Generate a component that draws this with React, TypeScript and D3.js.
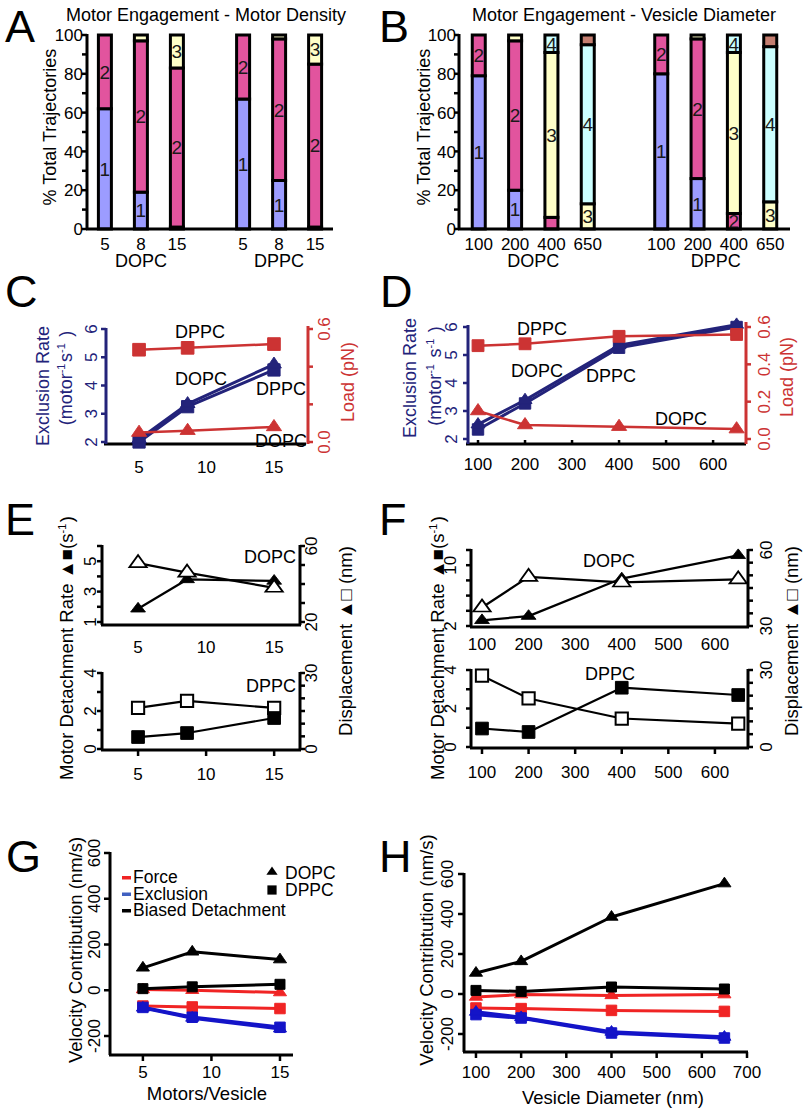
import React from "react";
import * as d3 from "d3";

const FONT = "'Liberation Sans', Arial, Helvetica, sans-serif";
const NAVY = "#23237a";
const RED = "#cc3333";
const BRIGHT_RED = "#f02424";
const BLUE = "#1414c8";
const LEGEND_BLUE = "#4060c0";
const SEG_COLORS = ["#9c9cff", "#e2549e", "#ffffc8", "#ccffff", "#c47e70"];

// A / B : % of trajectories with 1..5 motors engaged (DOPC cats, then DPPC cats)
const lipids = ["DOPC", "DPPC"];
const densityCats = ["5", "8", "15"];
const densEngaged1 = [62, 19, 1, 67, 25, 1];
const densEngaged2 = [38, 78, 82, 33, 73, 84];
const densEngaged3 = [0, 3, 17, 0, 2, 15];

const diameterCats = ["100", "200", "400", "650"];
const diamEngaged1 = [79, 20, 0, 0, 80, 26, 0, 0];
const diamEngaged2 = [21, 77, 6, 0, 20, 72, 8, 0];
const diamEngaged3 = [0, 3, 85, 13, 0, 2, 83, 14];
const diamEngaged4 = [0, 0, 9, 82, 0, 0, 9, 80];
const diamEngaged5 = [0, 0, 0, 5, 0, 0, 0, 6];

// x values
const motorsPerVesicle = [5, 8.6, 15];
const vesicleDiameter = [100, 200, 400, 650];

// C : exclusion rate (motor^-1 s^-1) and load (pN) vs motors
const exclRateDOPC_C = [2.1, 3.35, 4.75];
const exclRateDPPC_C = [2.0, 3.25, 4.55];
const loadDPPC_C = [0.49, 0.5, 0.52];
const loadDOPC_C = [0.05, 0.06, 0.08];

// D : same vs vesicle diameter
const exclRateDOPC_D = [2.52, 3.39, 5.35, 6.08];
const exclRateDPPC_D = [2.34, 3.27, 5.26, 6.0];
const loadDPPC_D = [0.5, 0.51, 0.55, 0.56];
const loadDOPC_D = [0.15, 0.075, 0.066, 0.053];

// E : detachment rate (s^-1) and displacement (nm) vs motors
const detachDOPC_E = [1.87, 3.8, 3.7];
const dispDOPC_E = [51, 46, 38];
const detachDPPC_E = [0.63, 0.84, 1.63];
const dispDPPC_E = [16.2, 19.0, 16.2];

// F : same vs vesicle diameter
const detachDOPC_F = [2.75, 3.3, 8.24, 11.3];
const dispDOPC_F = [37.3, 49.4, 47.2, 48.4];
const detachDPPC_F = [0.96, 0.78, 3.08, 2.7];
const dispDPPC_F = [27.8, 18.9, 11.1, 9.1];

// G : velocity contribution (nm/s) vs motors
const forceDOPC_G = [3, 0, -10];
const forceDPPC_G = [-69, -73, -80];
const exclDOPC_G = [-77, -121, -168];
const exclDPPC_G = [-75, -118, -162];
const biasDOPC_G = [98, 168, 134];
const biasDPPC_G = [7, 15, 26];

// H : velocity contribution vs vesicle diameter
const forceDOPC_H = [-15, -3, -7, -3];
const forceDPPC_H = [-70, -73, -82, -87];
const exclDOPC_H = [-90, -117, -190, -215];
const exclDPPC_H = [-103, -120, -195, -220];
const biasDOPC_H = [105, 163, 385, 552];
const biasDPPC_H = [18, 13, 35, 25];

function Letter({ x, y, t }: { x: number; y: number; t: string }) {
  return <text x={x} y={y} fontSize={45}>{t}</text>;
}

function RotLabel({ x, y, fs = 18, color = "#000", children }: any) {
  return (
    <text transform={`translate(${x},${y}) rotate(-90)`} textAnchor="middle" dy="0.36em" fontSize={fs} fill={color}>
      {children}
    </text>
  );
}

function Sup({ t }: { t: string }) {
  return (
    <>
      <tspan fontSize={11} dy={-7}>{t}</tspan>
      <tspan dy={7}>{"\u200a"}</tspan>
    </>
  );
}

function YAxis(props: any) {
  const { x, scale, top, bottom, ticks, labels, side = -1, color = "#000", labelX, rotated = true,
    fmt = (v: number) => String(v), fs = 17, tickLen = 5 } = props;
  return (
    <g>
      <line x1={x} x2={x} y1={top} y2={bottom} stroke={color} strokeWidth={3} />
      {ticks.map((t: number) => (
        <line key={"t" + t} x1={x} x2={x + side * tickLen} y1={scale(t)} y2={scale(t)} stroke={color} strokeWidth={2.5} />
      ))}
      {labels.map((t: number) =>
        rotated ? (
          <text key={"l" + t} transform={`translate(${labelX},${scale(t)}) rotate(-90)`} textAnchor="middle" dy="0.36em" fontSize={fs} fill={color}>
            {fmt(t)}
          </text>
        ) : (
          <text key={"l" + t} x={labelX} y={scale(t)} dy="0.36em" textAnchor="end" fontSize={fs} fill={color}>
            {fmt(t)}
          </text>
        )
      )}
    </g>
  );
}

function XAxis(props: any) {
  const { y, scale, left, right, ticks = [], tickLen = 5, labels, labelY, fs = 17 } = props;
  return (
    <g>
      <line x1={left} x2={right} y1={y} y2={y} stroke="#000" strokeWidth={3} />
      {ticks.map((t: number) => (
        <line key={"t" + t} x1={scale(t)} x2={scale(t)} y1={y} y2={y + tickLen} stroke="#000" strokeWidth={2.5} />
      ))}
      {labels.map((t: number) => (
        <text key={"l" + t} x={scale(t)} y={labelY} textAnchor="middle" fontSize={fs}>{t}</text>
      ))}
    </g>
  );
}

function Series(props: any) {
  const { xs, ys, x, y, color, shape, size, sw = 2.5, open = false, squash = 0.85, markerColor } = props;
  const pts = xs.map((v: number, i: number) => [x(v), y(ys[i])] as [number, number]);
  const path = d3.line()(pts) || "";
  const sym = d3.symbol().type(shape === "tri" ? d3.symbolTriangle : d3.symbolSquare).size(size)() || "";
  const mc = markerColor || color;
  return (
    <g>
      <path d={path} fill="none" stroke={color} strokeWidth={sw} strokeLinejoin="round" />
      {pts.map(([px, py]: [number, number], i: number) => (
        <path key={i} d={sym}
          transform={`translate(${px},${py}) scale(1,${shape === "tri" ? squash : 1})`}
          fill={open ? "#fff" : mc} stroke={mc} strokeWidth={open ? 2 : 1} />
      ))}
    </g>
  );
}

function EngagementPanel(props: any) {
  const { letter, letterX, title, titleX, cats, layers, left, right, pad, half, tickLabelX, yLabelX } = props;
  const y = d3.scaleLinear([0, 100], [229, 35]);
  const gx = d3.scalePoint<string>().domain(lipids).range([left, right]).padding(pad);
  const ix = d3.scalePoint<string>().domain(cats).range([-half, half]);
  const rows = lipids.flatMap((lipid, gi) =>
    cats.map((cat: string, ci: number) => {
      const r: Record<string, any> = { lipid, cat };
      layers.forEach((L: number[], k: number) => { r["n" + k] = L[gi * cats.length + ci]; });
      return r;
    })
  );
  const stacked = d3.stack<any>().keys(layers.map((_: any, k: number) => "n" + k))(rows);
  const bw = 13;
  return (
    <g>
      <Letter x={letterX} y={42} t={letter} />
      <text x={titleX} y={21} textAnchor="middle" fontSize={18}>{title}</text>
      <RotLabel x={yLabelX} y={127}>% Total Trajectories</RotLabel>
      <YAxis x={left} scale={y} top={34} bottom={229} ticks={d3.range(0, 101, 10)} labels={d3.range(0, 101, 20)}
        rotated={false} labelX={tickLabelX} />
      {stacked.map((series, k) =>
        series.map((d, i) => {
          const r = rows[i];
          if (d[1] - d[0] <= 0) return null;
          const cx = (gx(r.lipid) as number) + (ix(r.cat) as number);
          return (
            <rect key={k + "-" + i} x={cx - bw / 2} y={y(d[1])} width={bw} height={y(d[0]) - y(d[1])}
              fill={SEG_COLORS[k]} stroke="#000" strokeWidth={3} />
          );
        })
      )}
      {stacked.map((series, k) =>
        series.map((d, i) => {
          const r = rows[i];
          if (d[1] - d[0] < 7) return null;
          const cx = (gx(r.lipid) as number) + (ix(r.cat) as number);
          return (
            <text key={"t" + k + "-" + i} x={cx} y={y((d[0] + d[1]) / 2)} dy="0.36em" textAnchor="middle" fontSize={19} fill="#1a1a1a">
              {k + 1}
            </text>
          );
        })
      )}
      <line x1={left - 1} x2={right} y1={229} y2={229} stroke="#000" strokeWidth={3} />
      {lipids.map((lip) =>
        cats.map((c: string) => (
          <text key={lip + c} x={(gx(lip) as number) + (ix(c) as number)} y={250} textAnchor="middle" fontSize={17}>{c}</text>
        ))
      )}
      {lipids.map((lip) => (
        <text key={lip} x={gx(lip) as number} y={267} textAnchor="middle" fontSize={18}>{lip}</text>
      ))}
    </g>
  );
}

function PanelC() {
  const x = d3.scaleLinear([2.55, 17.3], [106, 305]);
  const y = d3.scaleLinear([2, 6], [442, 329]);
  const yr = d3.scaleLinear([0, 0.6], [442, 329]);
  const f = d3.format(".1f");
  return (
    <g>
      <Letter x={5} y={307} t="C" />
      <XAxis y={444} scale={x} left={104} right={306} labels={[5, 10, 15]} labelY={473} />
      <YAxis x={106} scale={y} top={328} bottom={444} ticks={[2, 3, 4, 5, 6]} labels={[2, 3, 4, 5, 6]} labelX={91} color={NAVY} />
      <YAxis x={308} scale={yr} top={326} bottom={444} ticks={[0, 0.2, 0.4, 0.6]} labels={[0, 0.6]} side={1} labelX={324} color={RED} fmt={f} />
      <Series xs={motorsPerVesicle} ys={exclRateDPPC_C} x={x} y={y} color={NAVY} shape="sq" size={150} sw={3} />
      <Series xs={motorsPerVesicle} ys={exclRateDOPC_C} x={x} y={y} color={NAVY} shape="tri" size={95} sw={3} />
      <Series xs={motorsPerVesicle} ys={loadDPPC_C} x={x} y={yr} color={RED} shape="sq" size={160} sw={2.5} />
      <Series xs={motorsPerVesicle} ys={loadDOPC_C} x={x} y={yr} color={RED} shape="tri" size={100} sw={2.5} />
      <text x={200} y={338} textAnchor="middle" fontSize={18}>DPPC</text>
      <text x={201} y={385} textAnchor="middle" fontSize={18}>DOPC</text>
      <text x={281} y={395} textAnchor="middle" fontSize={18}>DPPC</text>
      <text x={281} y={447} textAnchor="middle" fontSize={18}>DOPC</text>
      <RotLabel x={43} y={386} color={NAVY}>Exclusion Rate</RotLabel>
      <RotLabel x={66} y={378} color={NAVY}>(motor<Sup t="-1" />s<Sup t="-1" /> )</RotLabel>
      <RotLabel x={348} y={382} color={RED}>Load (pN)</RotLabel>
    </g>
  );
}

function PanelD() {
  const x = d3.scaleLinear([78.7, 670], [468, 746]);
  const y = d3.scaleLinear([2, 6], [439, 327]);
  const yr = d3.scaleLinear([0, 0.6], [439, 327]);
  const f = d3.format(".1f");
  return (
    <g>
      <Letter x={380} y={307} t="D" />
      <XAxis y={444} scale={x} left={466} right={746} ticks={[100, 200, 300, 400, 500, 600]} tickLen={-4}
        labels={[100, 200, 300, 400, 500, 600]} labelY={470} />
      <YAxis x={468} scale={y} top={325} bottom={444} ticks={[2, 3, 4, 5, 6]} labels={[2, 3, 4, 5, 6]} labelX={451} color={NAVY} />
      <YAxis x={746} scale={yr} top={322} bottom={444} ticks={[0, 0.2, 0.4, 0.6]} labels={[0, 0.2, 0.4, 0.6]} side={1} labelX={764} color={RED} fmt={f} />
      <Series xs={vesicleDiameter} ys={exclRateDPPC_D} x={x} y={y} color={NAVY} shape="sq" size={130} sw={3} />
      <Series xs={vesicleDiameter} ys={exclRateDOPC_D} x={x} y={y} color={NAVY} shape="tri" size={85} sw={3} />
      <Series xs={vesicleDiameter} ys={loadDPPC_D} x={x} y={yr} color={RED} shape="sq" size={140} sw={2.5} />
      <Series xs={vesicleDiameter} ys={loadDOPC_D} x={x} y={yr} color={RED} shape="tri" size={100} sw={2.5} />
      <text x={542} y={335} textAnchor="middle" fontSize={18}>DPPC</text>
      <text x={537} y={377} textAnchor="middle" fontSize={18}>DOPC</text>
      <text x={611} y={382} textAnchor="middle" fontSize={18}>DPPC</text>
      <text x={681} y={425} textAnchor="middle" fontSize={18}>DOPC</text>
      <RotLabel x={410} y={378} color={NAVY}>Exclusion Rate</RotLabel>
      <RotLabel x={435} y={376} color={NAVY}>(motor<Sup t="-1" /> s<Sup t="-1" /> )</RotLabel>
      <RotLabel x={787} y={377} color={RED}>Load (pN)</RotLabel>
    </g>
  );
}

function DetachPanel(props: any) {
  const { letter, letterX, xs, x, xTicks, xLabelsTop, top, bottom, leftX, rightX, upperLeft, upperRight,
    lowerLeft, lowerRight, dopcRate, dopcDisp, dppcRate, dppcDisp, leftLabelX, rightLabelX, tickLX, tickRX,
    topLabelY, botLabelY, dopcPos, dppcPos, upperLeftTicks, upperLeftLabels, upperRightTicks } = props;
  return (
    <g>
      <Letter x={letterX} y={535} t={letter} />
      {/* upper: DOPC */}
      <XAxis y={top.axis} scale={x} left={leftX - 1} right={rightX + 1} labels={xLabelsTop} labelY={topLabelY} />
      <YAxis x={leftX} scale={upperLeft} top={upperLeft.range()[1] - 1} bottom={top.axis} ticks={upperLeftTicks} labels={upperLeftLabels} labelX={tickLX} />
      <YAxis x={rightX} scale={upperRight} top={upperRight.range()[1] - 1} bottom={top.axis} ticks={upperRightTicks}
        labels={upperRight.domain()} side={1} labelX={tickRX} />
      <Series xs={xs} ys={dopcRate} x={x} y={upperLeft} color="#000" shape="tri" size={95} sw={2.2} squash={0.75} />
      <Series xs={xs} ys={dopcDisp} x={x} y={upperRight} color="#000" shape="tri" size={130} sw={2.2} open squash={0.8} />
      <text x={dopcPos[0]} y={dopcPos[1]} textAnchor="middle" fontSize={18}>DOPC</text>
      {/* lower: DPPC */}
      <XAxis y={bottom.axis} scale={x} left={leftX - 1} right={rightX + 1} ticks={xTicks} tickLen={6} labels={xTicks} labelY={botLabelY} />
      <YAxis x={leftX} scale={lowerLeft} top={lowerLeft.range()[1] - 1} bottom={bottom.axis} ticks={[0, 1, 2, 3, 4]} labels={[0, 2, 4]} labelX={tickLX} />
      <YAxis x={rightX} scale={lowerRight} top={lowerRight.range()[1] - 1} bottom={bottom.axis} ticks={d3.range(0, 31, 5)}
        labels={[0, 30]} side={1} labelX={tickRX} />
      <Series xs={xs} ys={dppcDisp} x={x} y={lowerRight} color="#000" shape="sq" size={150} sw={2.2} open />
      <Series xs={xs} ys={dppcRate} x={x} y={lowerLeft} color="#000" shape="sq" size={160} sw={2.2} />
      <text x={dppcPos[0]} y={dppcPos[1]} textAnchor="middle" fontSize={18}>DPPC</text>
      <RotLabel x={leftLabelX} y={648} fs={18.5}>
        Motor Detachment Rate {"\u25B2\u25A0"}(s<Sup t="-1" />)
      </RotLabel>
      <RotLabel x={rightLabelX} y={641} fs={18.5}>Displacement {"\u25B2\u25A1"} (nm)</RotLabel>
    </g>
  );
}

function VelocityPanel(props: any) {
  const { letter, letterX, xs, x, y, axisX, top, axisY, right, xTicks, tickLX, yLabelX, yLabelText, xTitle, xTitleX, xTitleY,
    force, forceD, excl, exclD, bias, biasD, legend } = props;
  return (
    <g>
      <Letter x={letterX} y={872} t={letter} />
      <XAxis y={axisY} scale={x} left={axisX - 1} right={right} ticks={xTicks} tickLen={6} labels={xTicks} labelY={1078} />
      <YAxis x={axisX} scale={y} top={top} bottom={axisY} ticks={[-200, 0, 200, 400, 600]} labels={[-200, 0, 200, 400, 600]} labelX={tickLX} tickLen={6} />
      <Series xs={xs} ys={force} x={x} y={y} color={BRIGHT_RED} shape="tri" size={75} sw={3} />
      <Series xs={xs} ys={forceD} x={x} y={y} color={BRIGHT_RED} shape="sq" size={110} sw={3} />
      <Series xs={xs} ys={exclD} x={x} y={y} color={BLUE} shape="sq" size={110} sw={3.5} />
      <Series xs={xs} ys={excl} x={x} y={y} color={BLUE} shape="tri" size={75} sw={3.5} />
      <Series xs={xs} ys={biasD} x={x} y={y} color="#000" shape="sq" size={100} sw={3} />
      <Series xs={xs} ys={bias} x={x} y={y} color="#000" shape="tri" size={75} sw={3} />
      <RotLabel x={yLabelX} y={950} fs={18.5}>{yLabelText}</RotLabel>
      <text x={xTitleX} y={xTitleY} textAnchor="middle" fontSize={18.5}>{xTitle}</text>
      {legend}
    </g>
  );
}

function LegendG() {
  const items = [
    { label: "Force", color: BRIGHT_RED },
    { label: "Exclusion", color: LEGEND_BLUE },
    { label: "Biased Detachment", color: "#000" },
  ];
  const tri = d3.symbol().type(d3.symbolTriangle).size(55)() || "";
  const sq = d3.symbol().type(d3.symbolSquare).size(85)() || "";
  return (
    <g>
      {items.map((it, i) => (
        <g key={it.label}>
          <rect x={122} y={876 + i * 16.5} width={9} height={3.5} fill={it.color} />
          <text x={133} y={883 + i * 16.5} fontSize={17.5}>{it.label}</text>
        </g>
      ))}
      <path d={tri} transform="translate(272,872) scale(1,0.85)" fill="#000" />
      <text x={285} y={879} fontSize={17.5}>DOPC</text>
      <path d={sq} transform="translate(272,890)" fill="#000" />
      <text x={285} y={896} fontSize={17.5}>DPPC</text>
    </g>
  );
}

export default function App() {
  const xE = d3.scaleLinear([2.35, 16.9], [102, 300]);
  const xF = d3.scaleLinear([76.4, 671], [471, 748]);
  const xG = d3.scaleLinear([2.6, 15.95], [110, 293]);
  const xH = d3.scaleLinear([73.5, 700], [464, 747]);
  return (
    <div style={{ position: "absolute", left: 0, top: 0 }}>
      <svg width={804} height={1112} viewBox="0 0 804 1112" fontFamily={FONT} style={{ display: "block" }}>
        <rect width={804} height={1112} fill="#fff" />
        <EngagementPanel letter="A" letterX={5} title="Motor Engagement - Motor Density" titleX={206}
          cats={densityCats} layers={[densEngaged1, densEngaged2, densEngaged3]}
          left={87} right={333} pad={0.39} half={36} tickLabelX={83} yLabelX={50} />
        <EngagementPanel letter="B" letterX={379} title="Motor Engagement - Vesicle Diameter" titleX={624}
          cats={diameterCats} layers={[diamEngaged1, diamEngaged2, diamEngaged3, diamEngaged4, diamEngaged5]}
          left={459} right={790} pad={0.407} half={54.5} tickLabelX={456} yLabelX={424} />
        <PanelC />
        <PanelD />
        <DetachPanel letter="E" letterX={5} xs={motorsPerVesicle} x={xE} xTicks={[5, 10, 15]} xLabelsTop={[5, 10, 15]}
          top={{ axis: 625 }} bottom={{ axis: 750 }} leftX={102} rightX={300}
          upperLeft={d3.scaleLinear([1, 6], [622, 546])} upperRight={d3.scaleLinear([20, 60], [622, 546])}
          lowerLeft={d3.scaleLinear([0, 4], [749, 673])} lowerRight={d3.scaleLinear([0, 30], [749, 673])}
          upperLeftTicks={[1, 2, 3, 4, 5, 6]} upperLeftLabels={[1, 3, 5]} upperRightTicks={[20, 30, 40, 50, 60]}
          dopcRate={detachDOPC_E} dopcDisp={dispDOPC_E} dppcRate={detachDPPC_E} dppcDisp={dispDPPC_E}
          leftLabelX={66} rightLabelX={345} tickLX={90} tickRX={311} topLabelY={653} botLabelY={780}
          dopcPos={[270, 563]} dppcPos={[271, 692]} />
        <DetachPanel letter="F" letterX={379} xs={vesicleDiameter} x={xF} xTicks={[100, 200, 300, 400, 500, 600]}
          xLabelsTop={[100, 200, 300, 400, 500, 600]}
          top={{ axis: 627 }} bottom={{ axis: 748 }} leftX={471} rightX={748}
          upperLeft={d3.scaleLinear([2, 12], [626, 550])} upperRight={d3.scaleLinear([30, 60], [626, 550])}
          lowerLeft={d3.scaleLinear([0, 4], [747, 670])} lowerRight={d3.scaleLinear([0, 30], [747, 670])}
          upperLeftTicks={[2, 4, 6, 8, 10, 12]} upperLeftLabels={[2, 10]} upperRightTicks={d3.range(30, 61, 5)}
          dopcRate={detachDOPC_F} dopcDisp={dispDOPC_F} dppcRate={detachDPPC_F} dppcDisp={dispDPPC_F}
          leftLabelX={437} rightLabelX={791} tickLX={450} tickRX={766} topLabelY={650} botLabelY={778}
          dopcPos={[609, 567]} dppcPos={[610, 680]} />
        <VelocityPanel letter="G" letterX={6} xs={motorsPerVesicle} x={xG} y={d3.scaleLinear([-200, 600], [1036, 853])}
          axisX={110} top={852} axisY={1055} right={293} xTicks={[5, 10, 15]} tickLX={94}
          yLabelX={75} yLabelText="Velocity Contribution (nm/s)" xTitle="Motors/Vesicle" xTitleX={207} xTitleY={1100}
          force={forceDOPC_G} forceD={forceDPPC_G} excl={exclDOPC_G} exclD={exclDPPC_G} bias={biasDOPC_G} biasD={biasDPPC_G}
          legend={<LegendG />} />
        <VelocityPanel letter="H" letterX={379} xs={vesicleDiameter} x={xH} y={d3.scaleLinear([-200, 600], [1034, 874])}
          axisX={464} top={873} axisY={1052} right={748} xTicks={[100, 200, 300, 400, 500, 600, 700]} tickLX={447}
          yLabelX={426} yLabelText="Velocity Contribtution (nm/s)" xTitle="Vesicle Diameter (nm)" xTitleX={613} xTitleY={1104}
          force={forceDOPC_H} forceD={forceDPPC_H} excl={exclDOPC_H} exclD={exclDPPC_H} bias={biasDOPC_H} biasD={biasDPPC_H}
          legend={null} />
      </svg>
    </div>
  );
}
